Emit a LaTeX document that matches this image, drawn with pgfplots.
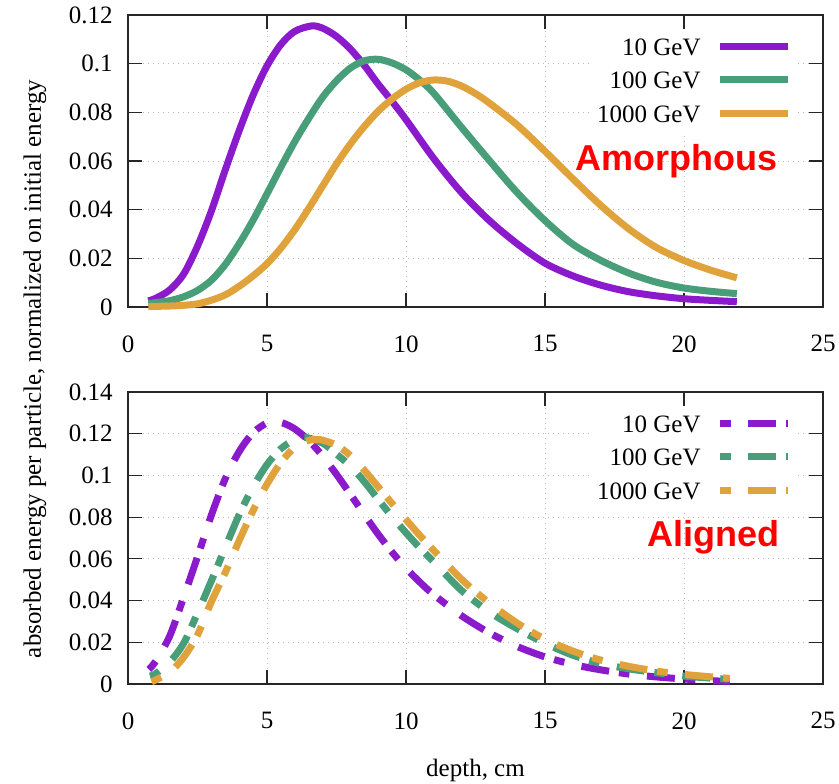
\documentclass[border=0pt]{standalone}
\usepackage{fontspec}
\setmainfont{Liberation Serif}
\newfontfamily\arialfont{Liberation Sans}
\usepackage{pgfplots}
\pgfplotsset{compat=1.18}
\definecolor{cpur}{RGB}{139,26,204}
\definecolor{cgrn}{RGB}{72,158,120}
\definecolor{corg}{RGB}{224,162,58}
\pgfplotsset{
  myaxis/.style={
    scale only axis, width=347.5pt, height=146pt,
    xmin=0, xmax=25, ymin=0,
    xtick={0,5,10,15,20,25},
    tick align=inside, major tick length=7pt,
    axis line style={black!85, line width=0.6pt},
    tick style={black!85, line width=0.6pt},
    grid=major,
    grid style={gray!55, line width=0.5pt, dash pattern=on 0.5pt off 2pt},
    scaled y ticks=false,
    /pgf/number format/assume math mode=true,
    xticklabel={\rmfamily\pgfmathprintnumber[assume math mode=true]{\tick}},
    yticklabel={\rmfamily\pgfmathprintnumber[assume math mode=true,fixed,precision=2]{\tick}},
    yticklabel style={inner sep=0pt, xshift=-7.5pt, anchor=east},
    xticklabel style={inner sep=0pt, yshift=-14pt, anchor=north},
    tick label style={font=\rmfamily\fontsize{12.5}{15}\selectfont},
    label style={font=\rmfamily\fontsize{12.5}{15}\selectfont},
    clip=false,
    legend plot pos=right,
    legend style={at={(axis description cs:0.96403,0.94521)}, anchor=north east, draw=none, fill=white, inner sep=3pt, row sep=5.75pt, column sep=8pt, font=\rmfamily\fontsize{12.5}{15}\selectfont, nodes={inner sep=0pt, text height=9pt, text depth=2pt}, cells={anchor=base east}},
    legend image code/.code={\draw[##1] (0pt,4.65pt) -- (34pt,4.65pt);},
  },
  solidline/.style={line width=3.5pt, smooth},
  dashline/.style={line width=3.5pt, smooth, dash pattern=on 5.3pt off 8.8pt on 14pt off 5pt},
}
\begin{document}
\begin{tikzpicture}[x=1pt,y=1pt]
\useasboundingbox (0,0) rectangle (419.5,391.5);
\begin{axis}[myaxis, at={(64pt,238pt)}, anchor=south west, ymax=0.12,
  ytick={0,0.02,0.04,0.06,0.08,0.1,0.12}]
\addplot[solidline, cpur] coordinates {
(0.73,0.0025) (1.0,0.0036) (1.5,0.007) (2.0,0.0135) (2.5,0.025) (3.0,0.0395) (3.5,0.0564) (4.0,0.0725) (4.5,0.0871) (5.0,0.0991) (5.5,0.1079) (6.0,0.1133) (6.6,0.1155) (7.0,0.1146) (7.5,0.1112) (8.0,0.1060) (8.5,0.0993) (9.0,0.0916) (9.5,0.0845) (10,0.077) (11,0.061) (12,0.047) (13,0.0355) (14,0.026) (15,0.018) (16,0.0128) (17,0.009) (18,0.0063) (19,0.0046) (20,0.0034) (21,0.0027) (21.9,0.0022)};
\addlegendentry{10 GeV}
\addplot[solidline, cgrn] coordinates {
(0.73,0.0015) (1.0,0.0018) (1.5,0.0026) (2.0,0.0042) (2.5,0.0068) (3.0,0.011) (3.5,0.0175) (4.0,0.026) (4.5,0.0357) (5.0,0.0465) (5.5,0.0575) (6.0,0.068) (6.5,0.0775) (7.0,0.0862) (7.5,0.093) (8.0,0.0982) (8.5,0.1012) (9.0,0.1018) (9.5,0.1003) (10,0.0975) (10.5,0.0932) (11,0.0878) (12,0.0738) (13,0.0602) (14,0.047) (15,0.0355) (16,0.0258) (17,0.0192) (18,0.014) (19,0.0102) (20,0.0078) (21,0.0064) (21.9,0.0055)};
\addlegendentry{100 GeV}
\addplot[solidline, corg] coordinates {
(0.73,0.0002) (1.5,0.0004) (2.0,0.0007) (2.5,0.0013) (3.0,0.0028) (3.5,0.005) (4.0,0.0085) (4.5,0.0128) (5.0,0.0178) (5.5,0.0242) (6.0,0.0318) (6.5,0.0405) (7.0,0.0497) (7.5,0.0588) (8.0,0.067) (8.5,0.0742) (9.0,0.0805) (9.5,0.0855) (10,0.0895) (10.5,0.0922) (11,0.0933) (11.5,0.0928) (12,0.0908) (12.5,0.0877) (13,0.0838) (14,0.0748) (15,0.064) (16,0.0527) (17,0.0418) (18,0.0322) (19,0.0245) (20,0.0191) (21,0.015) (21.9,0.012)};
\addlegendentry{1000 GeV}
\node[anchor=base east, inner sep=0pt, text=red, font=\arialfont\bfseries\fontsize{18}{21}\selectfont] at (axis cs:23.38,0.0563) {Amorphous};
\end{axis}
\begin{axis}[myaxis, at={(64pt,49.5pt)}, anchor=south west, ymax=0.14,
  ytick={0,0.02,0.04,0.06,0.08,0.1,0.12,0.14},
  xlabel={depth, cm},
  xlabel style={at={(axis description cs:0.5,-0.3151)}, anchor=base, inner sep=0pt},
  ylabel={absorbed energy per particle, normalized on initial energy},
  ylabel style={at={(axis description cs:-0.1252,1.0788)}, anchor=base, inner sep=0pt}]
\addplot[dashline, cpur] coordinates {
(0.75,0.007) (1.0,0.011) (1.5,0.023) (2.0,0.0415) (2.5,0.061) (3.0,0.081) (3.5,0.0985) (4.0,0.1115) (4.5,0.1205) (5.0,0.1252) (5.3,0.1258) (5.6,0.125) (6.0,0.1223) (6.5,0.1168) (7.0,0.1093) (7.5,0.1005) (8.0,0.091) (8.5,0.0812) (9.0,0.0718) (9.5,0.0632) (10,0.0555) (10.5,0.0488) (11,0.0428) (12,0.0327) (13,0.0245) (14,0.018) (15,0.013) (16,0.0094) (17,0.0068) (18,0.0048) (19,0.0034) (20,0.0024) (21,0.0016) (21.65,0.0012)};
\addlegendentry{10 GeV}
\addplot[dashline, cgrn] coordinates {
(0.79,0.0038) (1.0,0.005) (1.5,0.0105) (2.0,0.0195) (2.5,0.034) (3.0,0.0495) (3.5,0.0655) (4.0,0.0812) (4.5,0.0945) (5.0,0.1052) (5.5,0.1128) (6.0,0.1172) (6.4,0.1182) (7.0,0.1155) (7.5,0.1102) (8.0,0.1045) (8.5,0.097) (9.0,0.0885) (9.5,0.0802) (10,0.0725) (10.5,0.0652) (11,0.0585) (12,0.0448) (13,0.0345) (14,0.0265) (15,0.0195) (16,0.0138) (17,0.0098) (18,0.0073) (19,0.0054) (20,0.0038) (21,0.0028) (21.6,0.0023)};
\addlegendentry{100 GeV}
\addplot[dashline, corg] coordinates {
(0.85,0.0011) (1.0,0.002) (1.5,0.0055) (2.0,0.0128) (2.5,0.0235) (3.0,0.0395) (3.5,0.0535) (4.0,0.0688) (4.5,0.0832) (5.0,0.0958) (5.5,0.1062) (6.0,0.1135) (6.5,0.1168) (6.9,0.1172) (7.5,0.1145) (8.0,0.1095) (8.5,0.1025) (9.0,0.0945) (9.5,0.0865) (10,0.0788) (10.5,0.0712) (11,0.064) (12,0.0502) (13,0.0388) (14,0.0292) (15,0.0215) (16,0.0158) (17,0.0115) (18,0.0085) (19,0.0062) (20,0.0046) (21,0.0034) (21.65,0.0027)};
\addlegendentry{1000 GeV}
\node[anchor=base east, inner sep=0pt, text=red, font=\arialfont\bfseries\fontsize{18}{21}\selectfont] at (axis cs:23.45,0.0658) {Aligned};
\end{axis}
\end{tikzpicture}
\end{document}
